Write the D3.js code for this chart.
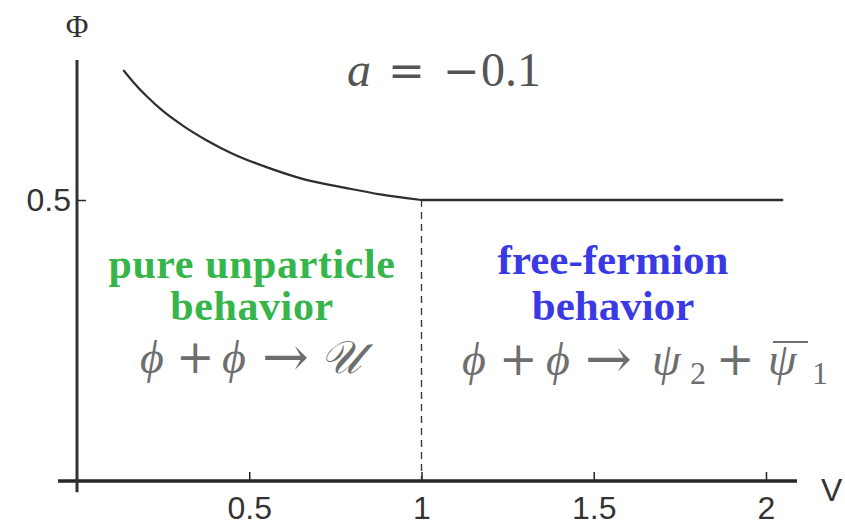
<!DOCTYPE html>
<html>
<head>
<meta charset="utf-8">
<script src="https://cdn.jsdelivr.net/npm/d3@7"></script>
<style>
  html, body { margin: 0; padding: 0; background: #fff; }
  svg { display: block; }
</style>
</head>
<body>
<svg id="chart" width="845" height="532"></svg>
<script>
// Φ(V) for a = -0.1: decreasing branch up to V = 1, then flat at 0.5
const curveV   = [0.136, 0.163, 0.203, 0.250, 0.308, 0.377, 0.453, 0.552, 0.647, 0.792, 0.880, 1.0];
const curvePhi = [0.730, 0.710, 0.684, 0.658, 0.632, 0.606, 0.582, 0.558, 0.539, 0.520, 0.510, 0.5];
const flatV    = [1.0, 2.05];
const flatPhi  = [0.5, 0.5];
const boundaryV = 1.0;

const xTicks = [0.5, 1, 1.5, 2];
const xTickLabels = ["0.5", "1", "1.5", "2"];
const yTicks = [0.5];
const yTickLabels = ["0.5"];

const svg = d3.select("#chart");
const x = d3.scaleLinear().domain([0, 2]).range([77, 766]);
const y = d3.scaleLinear().domain([0, 0.5]).range([481, 200]);
const ink = "#262626";
const sans = "'Liberation Sans', Arial, sans-serif";
const serif = "'Liberation Serif', 'DejaVu Serif', serif";
const opFont = "'DejaVu Serif', serif";

// axes lines
svg.append("line")
  .attr("x1", x(-0.055)).attr("x2", x(2.09))
  .attr("y1", y(0)).attr("y2", y(0))
  .attr("stroke", ink).attr("stroke-width", 3.5);
svg.append("line")
  .attr("x1", x(0)).attr("x2", x(0))
  .attr("y1", y(0.749)).attr("y2", y(-0.02))
  .attr("stroke", "#333").attr("stroke-width", 3);

// x axis ticks (inward) and labels
const xAxis = d3.axisBottom(x).tickValues(xTicks)
  .tickFormat((d, i) => xTickLabels[i]).tickSizeInner(-9).tickSizeOuter(0).tickPadding(15);
const gx = svg.append("g").attr("transform", `translate(0,${y(0)})`).call(xAxis);
gx.select(".domain").remove();
gx.selectAll(".tick line").attr("stroke", ink).attr("stroke-width", 1.5);
gx.selectAll(".tick text")
  .attr("fill", "#333").attr("font-family", sans)
  .attr("font-size", 32).attr("dy", "0.71em");

// y axis tick and label
const yAxis = d3.axisLeft(y).tickValues(yTicks)
  .tickFormat((d, i) => yTickLabels[i]).tickSizeInner(-9).tickSizeOuter(0).tickPadding(6);
const gy = svg.append("g").attr("transform", `translate(${x(0)},0)`).call(yAxis);
gy.select(".domain").remove();
gy.selectAll(".tick line").attr("stroke", ink).attr("stroke-width", 1.5);
gy.selectAll(".tick text")
  .attr("fill", "#333").attr("font-family", sans)
  .attr("font-size", 32);

// axis names
svg.append("text").attr("x", x(0)).attr("y", 37)
  .attr("text-anchor", "middle").attr("fill", "#333")
  .attr("font-family", serif).attr("font-size", 31)
  .text("Φ");
svg.append("text").attr("x", 821).attr("y", 501)
  .attr("fill", "#333").attr("font-family", sans)
  .attr("font-size", 32).text("V");

// dashed boundary at V = 1
svg.append("line")
  .attr("x1", x(boundaryV)).attr("x2", x(boundaryV))
  .attr("y1", y(0.5)).attr("y2", y(0))
  .attr("stroke", "#333").attr("stroke-width", 1.3)
  .attr("stroke-dasharray", "7,5");

// Φ curve
const curvePts = curveV.map((v, i) => [v, curvePhi[i]]);
const flatPts = flatV.map((v, i) => [v, flatPhi[i]]);
svg.append("path").datum(curvePts)
  .attr("d", d3.line().x(d => x(d[0])).y(d => y(d[1])).curve(d3.curveMonotoneX))
  .attr("fill", "none").attr("stroke", "#2e2e2e").attr("stroke-width", 2.2)
  .attr("stroke-linejoin", "round").attr("stroke-linecap", "round");
svg.append("path").datum(flatPts)
  .attr("d", d3.line().x(d => x(d[0])).y(d => y(d[1])))
  .attr("fill", "none").attr("stroke", "#2e2e2e").attr("stroke-width", 2.6);

// parameter label
const title = svg.append("text").attr("y", 86)
  .attr("fill", "#555").attr("font-family", serif).attr("font-size", 48);
title.append("tspan").attr("x", 347).attr("font-style", "italic").text("a");
title.append("tspan").attr("x", 388).attr("font-family", opFont).attr("font-size", 44).text("=");
title.append("tspan").attr("x", 443).attr("font-family", opFont).attr("font-size", 44).text("−");
title.append("tspan").attr("x", 481).text("0.1");

// region labels, one text per region with stacked lines
const green = "#35b54a", blue = "#3a3ae4";
function label(lines, cx, ys, color, size, spacing) {
  const t = svg.append("text")
    .attr("text-anchor", "middle").attr("fill", color)
    .attr("font-family", serif).attr("font-weight", "bold")
    .attr("font-size", size).attr("letter-spacing", spacing);
  lines.forEach((s, i) => {
    t.append("tspan").attr("x", cx).attr("y", ys[i]).text(s);
  });
}
label(["pure unparticle", "behavior"], 252, [278, 320], green, 42, 0.6);
label(["free-fermion", "behavior"], 613, [274, 320], blue, 43, 0);

// reaction formulas
const fGray = "#6e6e6e";
const left = svg.append("text").attr("y", 373)
  .attr("fill", fGray).attr("font-family", serif).attr("font-size", 46);
left.append("tspan").attr("x", 140).attr("font-style", "italic").text("ϕ");
left.append("tspan").attr("x", 176).attr("font-family", opFont).text("+");
left.append("tspan").attr("x", 222).attr("font-style", "italic").text("ϕ");
left.append("tspan").attr("x", 262).attr("font-family", opFont).attr("font-size", 56).attr("dy", 3).text("→");
left.append("tspan").attr("x", 320).attr("dy", -3).attr("font-style", "italic").text("𝒰");

const right = svg.append("text").attr("y", 375)
  .attr("fill", fGray).attr("font-family", serif).attr("font-size", 46);
right.append("tspan").attr("x", 462).attr("font-style", "italic").text("ϕ");
right.append("tspan").attr("x", 499).attr("font-family", opFont).text("+");
right.append("tspan").attr("x", 546).attr("font-style", "italic").text("ϕ");
right.append("tspan").attr("x", 585).attr("font-family", opFont).attr("font-size", 56).attr("dy", 3).text("→");
right.append("tspan").attr("x", 652).attr("dy", -3).attr("font-style", "italic").text("ψ");
right.append("tspan").attr("x", 690).attr("dy", 9).attr("font-size", 32).text("2");
right.append("tspan").attr("x", 716).attr("dy", -9).attr("font-family", opFont).text("+");
right.append("tspan").attr("x", 768).attr("font-style", "italic").text("ψ");
right.append("tspan").attr("x", 812).attr("dy", 9).attr("font-size", 32).text("1");
// bar over the antifermion
svg.append("line").attr("x1", 773).attr("x2", 808)
  .attr("y1", 342).attr("y2", 342)
  .attr("stroke", fGray).attr("stroke-width", 2);
</script>
</body>
</html>
